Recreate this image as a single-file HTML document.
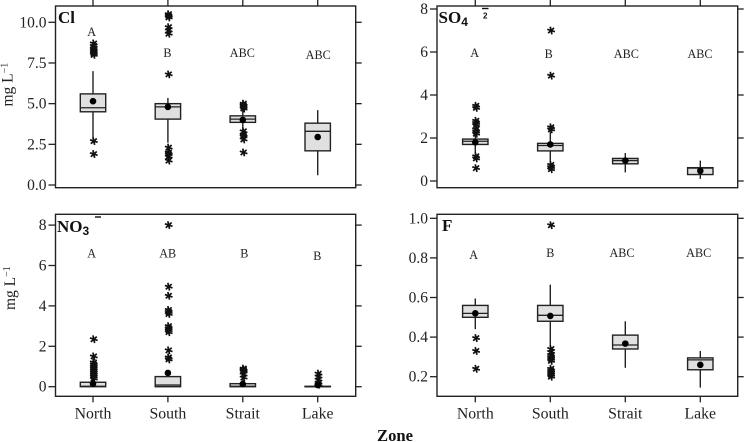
<!DOCTYPE html>
<html lang="en">
<head>
<meta charset="utf-8">
<title>Ion concentrations by zone</title>
<style>
html,body{margin:0;padding:0;background:#fff;}
svg{display:block;font-family:"Liberation Serif",serif;}
</style>
</head>
<body>
<svg id="chart" xmlns="http://www.w3.org/2000/svg" width="744" height="442" viewBox="0 0 744 442">
  <text x="58" y="23" font-size="17" font-weight="bold" fill="#111">Cl</text>
  <text x="438.5" y="23" font-size="17" font-weight="bold" fill="#111">SO<tspan font-size="12" dy="3" font-family="Liberation Sans, sans-serif">4</tspan></text>
  <text x="483" y="18.5" font-size="8" font-weight="bold" font-family="Liberation Sans, sans-serif" fill="#111">2</text>
  <line x1="482" x2="488.5" y1="8.5" y2="8.5" stroke="#111" stroke-width="1.4"/>
  <text x="57" y="232" font-size="17" font-weight="bold" fill="#111">NO<tspan font-size="12" dy="3" font-family="Liberation Sans, sans-serif">3</tspan></text>
  <line x1="95" x2="101" y1="217" y2="217" stroke="#111" stroke-width="1.4"/>
  <text x="442" y="231" font-size="17" font-weight="bold" fill="#111">F</text>
  <text transform="translate(12.5 106.5) rotate(-90)" font-size="15.5" fill="#222">mg L<tspan font-size="10" dy="-5">−1</tspan></text>
  <text transform="translate(15 310) rotate(-90)" font-size="15.5" fill="#222">mg L<tspan font-size="10" dy="-5">−1</tspan></text>
  <text x="377" y="441" font-size="16.6" font-weight="bold" fill="#111">Zone</text>
</svg>
<script>
const categories = ['North', 'South', 'Strait', 'Lake'];

const clTicks = [0, 2.5, 5, 7.5, 10];
const clTickLabels = ['0.0', '2.5', '5.0', '7.5', '10.0'];
const clQ1 = [4.5, 4.05, 3.85, 2.1];
const clMedian = [4.75, 4.8, 4.05, 3.3];
const clQ3 = [5.6, 5.0, 4.25, 3.8];
const clWhiskerLow = [2.9, 2.6, 3.4, 0.6];
const clWhiskerHigh = [7.0, 5.35, 4.6, 4.6];
const clMean = [5.15, 4.8, 4.0, 2.95];
const clOutliers = [
  [8.7, 8.55, 8.4, 8.3, 8.2, 8.1, 8.0, 2.7, 1.9],
  [10.5, 10.4, 10.3, 9.7, 9.5, 9.3, 6.8, 2.3, 2.0, 1.9, 1.75, 1.5],
  [5.0, 4.9, 4.8, 4.7, 3.3, 3.1, 3.0, 2.8, 2.0],
  []
];
const clLetters = ['A', 'B', 'ABC', 'ABC'];
const clLetterValues = [9.4, 8.1, 8.1, 8.0];

const so4Ticks = [0, 2, 4, 6, 8];
const so4TickLabels = ['0', '2', '4', '6', '8'];
const so4Q1 = [1.7, 1.4, 0.8, 0.3];
const so4Median = [1.85, 1.65, 0.95, 0.6];
const so4Q3 = [1.95, 1.75, 1.05, 0.62];
const so4WhiskerLow = [1.3, 0.9, 0.4, 0.1];
const so4WhiskerHigh = [2.2, 2.3, 1.3, 0.95];
const so4Mean = [1.8, 1.7, 0.95, 0.47];
const so4Outliers = [
  [3.5, 3.4, 2.8, 2.7, 2.6, 2.4, 2.3, 2.2, 1.15, 1.05, 0.6],
  [7.0, 4.9, 2.5, 2.4, 0.75, 0.65, 0.55],
  [],
  []
];
const so4Letters = ['A', 'B', 'ABC', 'ABC'];
const so4LetterValues = [5.95, 5.9, 5.9, 5.9];

const no3Ticks = [0, 2, 4, 6, 8];
const no3TickLabels = ['0', '2', '4', '6', '8'];
const no3Q1 = [0, 0, 0, 0];
const no3Median = [0.02, 0.08, 0.02, 0];
const no3Q3 = [0.22, 0.5, 0.15, 0.02];
const no3WhiskerLow = [0, 0, 0, 0];
const no3WhiskerHigh = [0.5, 0.5, 0.35, 0.05];
const no3Mean = [0.15, 0.68, 0.13, 0.08];
const no3Outliers = [
  [2.35, 1.5, 1.2, 1.1, 1.0, 0.9, 0.8, 0.7, 0.6, 0.5, 0.4],
  [8.0, 4.95, 4.5, 3.8, 3.7, 3.6, 3.0, 2.9, 2.8, 2.7, 1.8, 1.45, 1.35],
  [0.9, 0.85, 0.8, 0.75, 0.6, 0.45],
  [0.65, 0.5, 0.35, 0.2, 0.1]
];
const no3Letters = ['A', 'AB', 'B', 'B'];
const no3LetterValues = [6.6, 6.6, 6.6, 6.47];

const fTicks = [0.2, 0.4, 0.6, 0.8, 1.0];
const fTickLabels = ['0.2', '0.4', '0.6', '0.8', '1.0'];
const fQ1 = [0.5, 0.48, 0.34, 0.235];
const fMedian = [0.52, 0.51, 0.36, 0.285];
const fQ3 = [0.56, 0.56, 0.41, 0.295];
const fWhiskerLow = [0.44, 0.35, 0.245, 0.145];
const fWhiskerHigh = [0.595, 0.665, 0.48, 0.33];
const fMean = [0.52, 0.507, 0.367, 0.26];
const fOutliers = [
  [0.395, 0.33, 0.24],
  [0.965, 0.34, 0.325, 0.31, 0.3, 0.29, 0.28, 0.24, 0.23, 0.22, 0.21, 0.2],
  [],
  []
];
const fLetters = ['A', 'B', 'ABC', 'ABC'];
const fLetterValues = [0.815, 0.825, 0.825, 0.825];

const svg = document.getElementById('chart');
const NS = 'http://www.w3.org/2000/svg';
const INK = '#222';

function add(tag, attrs, parent) {
  const el = document.createElementNS(NS, tag);
  for (const k in attrs) el.setAttribute(k, attrs[k]);
  (parent || svg).appendChild(el);
  return el;
}

function tickLine(g, x1, y1, x2, y2, name) {
  const el = add('line', {x1: x1, y1: y1, x2: x2, y2: y2, stroke: INK, 'stroke-width': 1.3}, g);
  
  
}

function drawStar(g, cx, cy) {
  const s = add('path', {
    d: 'M' + (cx - 4) + ' ' + cy + 'H' + (cx + 4) +
       'M' + (cx - 2) + ' ' + (cy - 3.4) + 'L' + (cx + 2) + ' ' + (cy + 3.4) +
       'M' + (cx + 2) + ' ' + (cy - 3.4) + 'L' + (cx - 2) + ' ' + (cy + 3.4),
    stroke: '#111', 'stroke-width': 1.7, fill: 'none',
    transform: 'rotate(18 ' + cx + ' ' + cy + ')'
  }, g);
  
  
}

function drawPanel(p) {
  const yScale = v => p.yBase + (v - p.yBaseValue) * p.pxPerUnit;
  const xScale = i => p.xStart + i * p.xStep;

  const g = add('g', {});
  
  

  p.ticks.forEach((t, i) => {
    const y = yScale(t);
    tickLine(g, p.left - 7, y, p.left, y, 'y-tick');
    tickLine(g, p.right, y, p.right + 6, y, 'y-tick-right');
    const lab = add('text', {x: p.left - 9, y: y + 5, 'text-anchor': 'end', 'font-size': 15.5, fill: INK}, g);
    
    
    lab.textContent = p.tickLabels[i];
  });

  categories.forEach((c, i) => {
    const x = xScale(i);
    if (p.top < 100) {
      tickLine(g, x, 0, x, p.top, 'x-tick-top');
    } else {
      tickLine(g, x, p.bottom, x, p.bottom + 6, 'x-tick');
      const lab = add('text', {x: x, y: 418.5, 'text-anchor': 'middle', 'font-size': 15.8, fill: INK}, g);
      
      
      lab.textContent = c;
    }

    const w = add('line', {x1: x, x2: x, y1: yScale(p.whiskerLow[i]), y2: yScale(p.whiskerHigh[i]), stroke: INK, 'stroke-width': 1.4}, g);
    
    

    p.outliers[i].forEach(v => drawStar(g, x + 0.8, yScale(v)));

    const yTop = yScale(p.q3[i]);
    const yBot = yScale(p.q1[i]);
    const box = add('rect', {x: x - 12.7, y: yTop, width: 25.4, height: Math.max(yBot - yTop, 0.2), fill: '#e0e0e0', stroke: INK, 'stroke-width': 1.4}, g);
    
    

    const med = add('line', {x1: x - 12.7, x2: x + 12.7, y1: yScale(p.median[i]), y2: yScale(p.median[i]), stroke: INK, 'stroke-width': 1.3}, g);
    
    

    const dot = add('circle', {cx: x, cy: yScale(p.mean[i]), r: 3.3, fill: '#000'}, g);
    
    

    const letter = add('text', {x: x + p.letterDx[i], y: yScale(p.letterValues[i]) + 4, 'text-anchor': 'middle', 'font-size': 12.2, fill: INK}, g);
    
    
    letter.textContent = p.letters[i];
  });

  const frame = add('rect', {x: p.left, y: p.top, width: p.right - p.left, height: p.bottom - p.top, fill: 'none', stroke: INK, 'stroke-width': 1.4}, g);
  
  
}

drawPanel({name: 'panel-cl', left: 55.5, right: 355.7, top: 6, bottom: 187.7,
  yBase: 185, yBaseValue: 0, pxPerUnit: -16.27, xStart: 93, xStep: 74.9, letterDx: [-1.3, -0.5, -0.5, 0.5],
  ticks: clTicks, tickLabels: clTickLabels, q1: clQ1, median: clMedian, q3: clQ3,
  whiskerLow: clWhiskerLow, whiskerHigh: clWhiskerHigh, mean: clMean, outliers: clOutliers,
  letters: clLetters, letterValues: clLetterValues});

drawPanel({name: 'panel-so4', left: 437, right: 737.7, top: 6, bottom: 187.7,
  yBase: 181, yBaseValue: 0, pxPerUnit: -21.5, xStart: 475.3, xStep: 75, letterDx: [-0.6, -1.6, 1, -0.3],
  ticks: so4Ticks, tickLabels: so4TickLabels, q1: so4Q1, median: so4Median, q3: so4Q3,
  whiskerLow: so4WhiskerLow, whiskerHigh: so4WhiskerHigh, mean: so4Mean, outliers: so4Outliers,
  letters: so4Letters, letterValues: so4LetterValues});

drawPanel({name: 'panel-no3', left: 55.5, right: 355.7, top: 214.3, bottom: 396.3,
  yBase: 386.7, yBaseValue: 0, pxPerUnit: -20.2, xStart: 93, xStep: 74.9, letterDx: [-1.3, -0.2, 1.5, -0.4],
  ticks: no3Ticks, tickLabels: no3TickLabels, q1: no3Q1, median: no3Median, q3: no3Q3,
  whiskerLow: no3WhiskerLow, whiskerHigh: no3WhiskerHigh, mean: no3Mean, outliers: no3Outliers,
  letters: no3Letters, letterValues: no3LetterValues});

drawPanel({name: 'panel-f', left: 437, right: 737.7, top: 214.3, bottom: 396.3,
  yBase: 376.7, yBaseValue: 0.2, pxPerUnit: -198, xStart: 475.3, xStep: 75, letterDx: [-1.6, 0, -3.3, -1.6],
  ticks: fTicks, tickLabels: fTickLabels, q1: fQ1, median: fMedian, q3: fQ3,
  whiskerLow: fWhiskerLow, whiskerHigh: fWhiskerHigh, mean: fMean, outliers: fOutliers,
  letters: fLetters, letterValues: fLetterValues});
</script>
</body>
</html>
